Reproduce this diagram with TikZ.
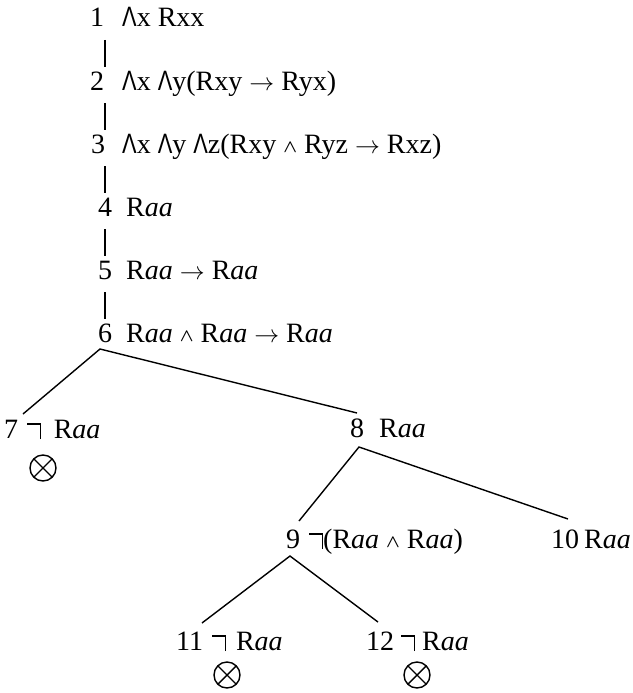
\documentclass[tikz,border=0pt]{standalone}
\usepackage{fontspec}
\setmainfont{Liberation Serif}
\setsansfont{Liberation Sans}

% universal quantifier (big wedge), small conjunction, negation hook
\newcommand\All{\scalebox{0.78}[1]{\sffamily Λ}}
\newcommand\Cj{\raisebox{0.03em}{\scalebox{0.72}{\boldmath$\wedge$}}}
\newcommand\Ng{\rule[0.48em]{0.5em}{0.06em}\kern-0.06em\rule[-0.04em]{0.06em}{0.58em}}
\newcommand\Ra{R\textit{aa}}

\tikzset{
  lbl/.style={anchor=base west, inner sep=0pt, font=\fontsize{28}{33}\selectfont},
  edge/.style={line width=1.4pt},
  link/.style={line width=1.1pt},
  closed/.style={circle, draw, line width=1.4pt, minimum size=26pt, inner sep=0pt,
    path picture={\draw[line width=1.4pt]
      (path picture bounding box.north west) -- (path picture bounding box.south east)
      (path picture bounding box.north east) -- (path picture bounding box.south west);}}
}

\begin{document}
\begin{tikzpicture}[x=1pt, y=-1pt]
\useasboundingbox (0,0) rectangle (632,693);

% trunk of the tableau
\node[lbl] (n1) at (90,27)  {1};
\node[lbl] (f1) at (122,27) {\All x Rxx};
\node[lbl] (n2) at (90,90)  {2};
\node[lbl] (f2) at (122,90) {\All x \All y(Rxy $\rightarrow$ Ryx)};
\node[lbl] (n3) at (91,153) {3};
\node[lbl] (f3) at (122,153) {\All x \All y \All z(Rxy \Cj\ Ryz $\rightarrow$ Rxz)};
\node[lbl] (n4) at (98,216) {4};
\node[lbl] (f4) at (126,216) {\Ra};
\node[lbl] (n5) at (98,279) {5};
\node[lbl] (f5) at (126,279) {\Ra\ $\rightarrow$ \Ra};
\node[lbl] (n6) at (98,342) {6};
\node[lbl] (f6) at (126,342) {\Ra\ \Cj\ \Ra\ $\rightarrow$ \Ra};

% branches
\node[lbl] (n7)  at (4,438)   {7};
\node[lbl] (f7)  at (27,438)  {\Ng\hspace{0.45em}\Ra};
\node[lbl] (n8)  at (350,437) {8};
\node[lbl] (f8)  at (379,437) {\Ra};
\node[lbl] (n9)  at (286,548) {9};
\node[lbl] (f9)  at (309,548) {\Ng(\Ra\ \Cj\ \Ra)};
\node[lbl] (n10) at (551,548) {10};
\node[lbl] (f10) at (584,548) {\Ra};
\node[lbl] (n11) at (176,650) {11};
\node[lbl] (f11) at (212,650) {\Ng\hspace{0.35em}\Ra};
\node[lbl] (n12) at (366,650) {12};
\node[lbl] (f12) at (401,650) {\Ng\ \Ra};

% closed branches
\node[closed] (x7)  at (43,468)  {};
\node[closed] (x11) at (227,675) {};
\node[closed] (x12) at (417,675) {};

% vertical links
\draw[link] ([shift={(15,13)}]n1.base west) -- ([shift={(15,-23)}]n2.base west);
\draw[link] ([shift={(15,13)}]n2.base west) -- ([shift={(14,-23)}]n3.base west);
\draw[link] ([shift={(14,13)}]n3.base west) -- ([shift={(7,-23)}]n4.base west);
\draw[link] ([shift={(7,13)}]n4.base west)  -- ([shift={(7,-23)}]n5.base west);
\draw[link] ([shift={(7,13)}]n5.base west)  -- ([shift={(7,-23)}]n6.base west);

% splits
\draw[edge] ([shift={(19,-24)}]n7.base west) -- ([shift={(2,7)}]n6.base west)
            -- ([shift={(7,-24)}]n8.base west);
\draw[edge] ([shift={(13,-27)}]n9.base west) -- ([shift={(9,10)}]n8.base west)
            -- ([shift={(17,-29)}]n10.base west);
\draw[edge] ([shift={(26,-27)}]n11.base west) -- ([shift={(4,8)}]n9.base west)
            -- ([shift={(12,-28)}]n12.base west);
\end{tikzpicture}
\end{document}
